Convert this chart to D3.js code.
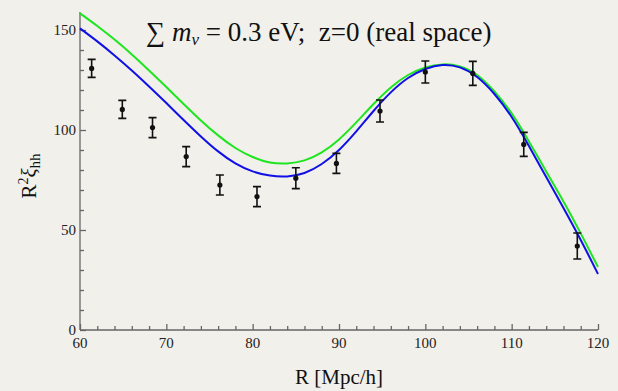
<!DOCTYPE html>
<html><head><meta charset="utf-8"><script src="https://cdn.jsdelivr.net/npm/d3@7"></script></head>
<body style="margin:0;background:#f2f0eb">
<script>
// measured points with error bars
var pointR   = [61.35, 64.9, 68.4, 72.3, 76.2, 80.5, 85.0, 89.7, 94.75, 100.0, 105.5, 111.4, 117.6];
var pointXi  = [130.8, 110.3, 101.2, 86.7, 72.5, 66.7, 75.9, 83.3, 109.5, 129.0, 128.3, 92.8, 42.0];
var pointErr = [4.5, 4.5, 5, 5, 5, 5, 5.2, 5, 5.5, 5.5, 6, 6, 6.5];

// model curves
var curveR = [60, 62, 64, 66, 68, 70, 72, 74, 76, 78, 80, 82, 84, 86, 88, 90, 92, 94, 96, 98, 100, 102, 104, 106, 108, 110, 112, 114, 116, 118, 120];
var blueXi = [150.8, 144.3, 137.3, 129.8, 121.8, 113.5, 105, 96.8, 89.3, 83.3, 79.3, 77.2, 76.8, 78.5, 83, 90, 99.3, 109.5, 118.8, 126, 130.5, 132.5, 131.3, 126.5, 118, 106.5, 92, 76.5, 61, 45, 28];
var greenXi = [158.3, 152, 145.2, 137.8, 129.8, 121.5, 113, 104.8, 97.3, 91, 86.5, 83.8, 83.3, 84.8, 88.8, 95.3, 103.8, 113, 121.3, 127.5, 131.3, 132.8, 131.8, 127.5, 119.3, 108.3, 94.3, 79.3, 64.3, 48.3, 31.5];

var xMajor = [60, 70, 80, 90, 100, 110, 120];
var yMajor = [0, 50, 100, 150];

var width = 618, height = 391;
var margin = {left: 80, right: 20, top: 12, bottom: 61};
var serif = "'Liberation Serif', serif";

var svg = d3.select("body").append("svg")
    .attr("width", width)
    .attr("height", height)
    .style("display", "block");

var x = d3.scaleLinear().domain([60, 120]).range([margin.left, width - margin.right]);
var y = d3.scaleLinear().domain([0, 159]).range([height - margin.bottom, margin.top]);

var axisColor = "#666";

// y axis, ticks pointing inwards
var yMinor = d3.range(0, 160, 10).filter(function(v) { return yMajor.indexOf(v) < 0; });
var yAx = svg.append("g").attr("transform", "translate(" + x(60) + ",0)");
yAx.call(d3.axisRight(y).tickValues(yMajor).tickSize(6).tickFormat(""));
yAx.append("g").call(d3.axisRight(y).tickValues(yMinor).tickSize(4).tickFormat(""));
yAx.selectAll(".domain").filter(function(d, i) { return i > 0; }).remove();
yAx.select(".domain").attr("d", "M0," + y(159) + "V" + y(0));
yAx.selectAll("line, path").attr("stroke", axisColor).attr("stroke-width", 1.3);

// x axis, ticks pointing inwards
var xMinor = d3.range(60, 121, 2).filter(function(v) { return xMajor.indexOf(v) < 0; });
var xAx = svg.append("g").attr("transform", "translate(0," + y(0) + ")");
xAx.call(d3.axisTop(x).tickValues(xMajor).tickSize(6).tickFormat(""));
xAx.append("g").call(d3.axisTop(x).tickValues(xMinor).tickSize(4).tickFormat(""));
xAx.selectAll(".domain").filter(function(d, i) { return i > 0; }).remove();
xAx.select(".domain").attr("d", "M" + x(60) + ",0H" + x(120));
xAx.selectAll("line, path").attr("stroke", axisColor).attr("stroke-width", 1.3);

// tick labels
svg.selectAll("text.ytick")
    .data(yMajor).enter().append("text")
    .attr("class", "ytick")
    .attr("x", x(60) - 4)
    .attr("y", function(d) { return y(d) + 5; })
    .attr("text-anchor", "end")
    .attr("font-size", 15)
    .attr("fill", "#222")
    .style("font-family", serif)
    .text(function(d) { return d; });

svg.selectAll("text.xtick")
    .data(xMajor).enter().append("text")
    .attr("class", "xtick")
    .attr("x", function(d) { return x(d); })
    .attr("y", y(0) + 18)
    .attr("text-anchor", "middle")
    .attr("font-size", 15)
    .attr("fill", "#222")
    .style("font-family", serif)
    .text(function(d) { return d; });

// model lines
var line = function(vals) {
    return d3.line()
        .x(function(d, i) { return x(curveR[i]); })
        .y(function(d) { return y(d); })
        .curve(d3.curveNatural)(vals);
};
svg.append("path").attr("d", line(greenXi))
    .attr("fill", "none").attr("stroke", "#1ee61e").attr("stroke-width", 2);
svg.append("path").attr("d", line(blueXi))
    .attr("fill", "none").attr("stroke", "#1010e6").attr("stroke-width", 2);

// data points with error bars
var pts = pointR.map(function(r, i) { return {r: r, v: pointXi[i], e: pointErr[i]}; });
svg.append("g").attr("stroke", "#111").attr("stroke-width", 1.6)
    .selectAll("path").data(pts).enter().append("path")
    .attr("fill", "none")
    .attr("d", function(d) {
        var cx = x(d.r), t = y(d.v + d.e), b = y(d.v - d.e);
        return "M" + (cx - 4) + "," + t + "H" + (cx + 4) +
               "M" + cx + "," + t + "V" + b +
               "M" + (cx - 4) + "," + b + "H" + (cx + 4);
    });
svg.append("g").selectAll("circle").data(pts).enter().append("circle")
    .attr("cx", function(d) { return x(d.r); })
    .attr("cy", function(d) { return y(d.v); })
    .attr("r", 2.6)
    .attr("fill", "#111");

// title
var title = svg.append("text")
    .attr("x", 146).attr("y", 41)
    .attr("font-size", 27)
    .attr("fill", "#111")
    .style("font-family", serif);
title.append("tspan").text("\u2211 ");
title.append("tspan").attr("font-style", "italic").text("m");
title.append("tspan").attr("font-style", "italic").attr("font-size", 17).attr("dy", 4).text("\u03bd");
title.append("tspan").attr("dy", -4).text(" = 0.3 eV;\u00a0 z=0 (real space)");

// axis labels
svg.append("text")
    .attr("x", 339).attr("y", 384)
    .attr("text-anchor", "middle")
    .attr("font-size", 21)
    .attr("fill", "#111")
    .style("font-family", serif)
    .text("R [Mpc/h]");

var yl = svg.append("text")
    .attr("transform", "translate(36,176) rotate(-90)")
    .attr("text-anchor", "middle")
    .attr("font-size", 21)
    .attr("fill", "#111")
    .style("font-family", serif);
yl.append("tspan").text("R");
yl.append("tspan").attr("font-size", 14).attr("dy", -8).text("2");
yl.append("tspan").attr("font-style", "italic").attr("dy", 8).text("\u03be");
yl.append("tspan").attr("font-size", 15).attr("dy", 4).text("hh");
</script>
</body>
</html>
